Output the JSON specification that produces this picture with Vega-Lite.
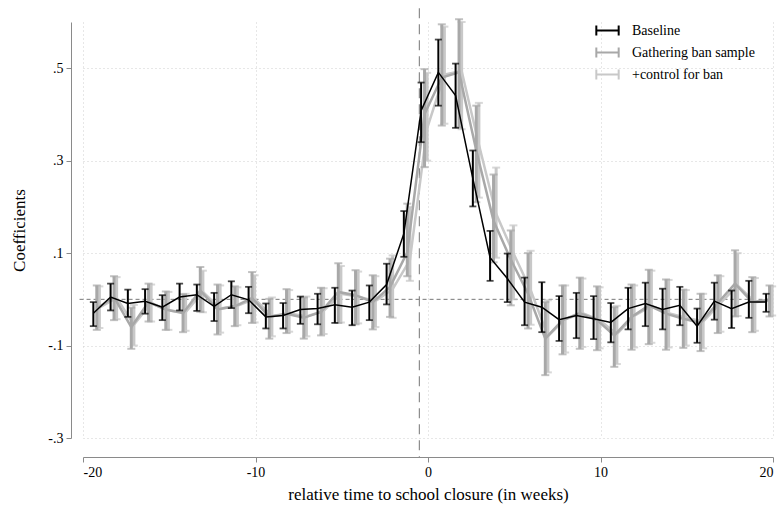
{
  "$schema": "https://vega.github.io/schema/vega-lite/v6.json",
  "width": 690,
  "height": 416,
  "autosize": {"type": "none"},
  "padding": {"left": 83, "top": 22, "right": 5, "bottom": 68},
  "background": "white",
  "datasets": {
    "coefs": [
      {"series": "Baseline", "x": -19.4, "b": -0.030, "lo": -0.058, "hi": -0.006},
      {"series": "Baseline", "x": -18.4, "b": 0.005, "lo": -0.024, "hi": 0.034},
      {"series": "Baseline", "x": -17.4, "b": -0.009, "lo": -0.038, "hi": 0.021},
      {"series": "Baseline", "x": -16.4, "b": -0.004, "lo": -0.031, "hi": 0.022},
      {"series": "Baseline", "x": -15.4, "b": -0.017, "lo": -0.045, "hi": 0.009},
      {"series": "Baseline", "x": -14.4, "b": 0.005, "lo": -0.024, "hi": 0.034},
      {"series": "Baseline", "x": -13.4, "b": 0.010, "lo": -0.025, "hi": 0.032},
      {"series": "Baseline", "x": -12.4, "b": -0.015, "lo": -0.047, "hi": 0.014},
      {"series": "Baseline", "x": -11.4, "b": 0.010, "lo": -0.019, "hi": 0.039},
      {"series": "Baseline", "x": -10.4, "b": -0.001, "lo": -0.030, "hi": 0.027},
      {"series": "Baseline", "x": -9.4, "b": -0.038, "lo": -0.063, "hi": -0.009},
      {"series": "Baseline", "x": -8.4, "b": -0.035, "lo": -0.063, "hi": -0.008},
      {"series": "Baseline", "x": -7.4, "b": -0.022, "lo": -0.053, "hi": 0.006},
      {"series": "Baseline", "x": -6.4, "b": -0.020, "lo": -0.054, "hi": 0.012},
      {"series": "Baseline", "x": -5.4, "b": -0.012, "lo": -0.051, "hi": 0.025},
      {"series": "Baseline", "x": -4.4, "b": -0.017, "lo": -0.056, "hi": 0.019},
      {"series": "Baseline", "x": -3.4, "b": -0.006, "lo": -0.045, "hi": 0.030},
      {"series": "Baseline", "x": -2.4, "b": 0.032, "lo": -0.011, "hi": 0.077},
      {"series": "Baseline", "x": -1.4, "b": 0.142, "lo": 0.092, "hi": 0.191},
      {"series": "Baseline", "x": -0.4, "b": 0.408, "lo": 0.340, "hi": 0.469},
      {"series": "Baseline", "x": 0.6, "b": 0.491, "lo": 0.419, "hi": 0.562},
      {"series": "Baseline", "x": 1.6, "b": 0.441, "lo": 0.371, "hi": 0.510},
      {"series": "Baseline", "x": 2.6, "b": 0.261, "lo": 0.201, "hi": 0.322},
      {"series": "Baseline", "x": 3.6, "b": 0.090, "lo": 0.040, "hi": 0.148},
      {"series": "Baseline", "x": 4.6, "b": 0.045, "lo": -0.006, "hi": 0.099},
      {"series": "Baseline", "x": 5.6, "b": -0.006, "lo": -0.056, "hi": 0.047},
      {"series": "Baseline", "x": 6.6, "b": -0.017, "lo": -0.071, "hi": 0.037},
      {"series": "Baseline", "x": 7.6, "b": -0.044, "lo": -0.090, "hi": 0.007},
      {"series": "Baseline", "x": 8.6, "b": -0.035, "lo": -0.084, "hi": 0.014},
      {"series": "Baseline", "x": 9.6, "b": -0.042, "lo": -0.086, "hi": 0.007},
      {"series": "Baseline", "x": 10.6, "b": -0.050, "lo": -0.093, "hi": -0.008},
      {"series": "Baseline", "x": 11.6, "b": -0.020, "lo": -0.065, "hi": 0.025},
      {"series": "Baseline", "x": 12.6, "b": -0.009, "lo": -0.058, "hi": 0.036},
      {"series": "Baseline", "x": 13.6, "b": -0.022, "lo": -0.065, "hi": 0.023},
      {"series": "Baseline", "x": 14.6, "b": -0.013, "lo": -0.056, "hi": 0.027},
      {"series": "Baseline", "x": 15.6, "b": -0.058, "lo": -0.094, "hi": -0.020},
      {"series": "Baseline", "x": 16.6, "b": -0.004, "lo": -0.044, "hi": 0.036},
      {"series": "Baseline", "x": 17.6, "b": -0.020, "lo": -0.062, "hi": 0.019},
      {"series": "Baseline", "x": 18.6, "b": -0.006, "lo": -0.040, "hi": 0.040},
      {"series": "Baseline", "x": 19.6, "b": -0.006, "lo": -0.027, "hi": 0.012},

      {"series": "Gathering ban sample", "x": -19.2, "b": -0.020, "lo": -0.066, "hi": 0.030},
      {"series": "Gathering ban sample", "x": -18.2, "b": 0.005, "lo": -0.045, "hi": 0.050},
      {"series": "Gathering ban sample", "x": -17.2, "b": -0.060, "lo": -0.107, "hi": -0.018},
      {"series": "Gathering ban sample", "x": -16.2, "b": -0.006, "lo": -0.048, "hi": 0.034},
      {"series": "Gathering ban sample", "x": -15.2, "b": -0.022, "lo": -0.066, "hi": 0.017},
      {"series": "Gathering ban sample", "x": -14.2, "b": -0.030, "lo": -0.071, "hi": 0.011},
      {"series": "Gathering ban sample", "x": -13.2, "b": 0.019, "lo": -0.027, "hi": 0.070},
      {"series": "Gathering ban sample", "x": -12.2, "b": -0.022, "lo": -0.076, "hi": 0.032},
      {"series": "Gathering ban sample", "x": -11.2, "b": -0.015, "lo": -0.058, "hi": 0.028},
      {"series": "Gathering ban sample", "x": -10.2, "b": 0.003, "lo": -0.051, "hi": 0.059},
      {"series": "Gathering ban sample", "x": -9.2, "b": -0.038, "lo": -0.085, "hi": 0.001},
      {"series": "Gathering ban sample", "x": -8.2, "b": -0.031, "lo": -0.073, "hi": 0.022},
      {"series": "Gathering ban sample", "x": -7.2, "b": -0.040, "lo": -0.085, "hi": 0.004},
      {"series": "Gathering ban sample", "x": -6.2, "b": -0.027, "lo": -0.078, "hi": 0.025},
      {"series": "Gathering ban sample", "x": -5.2, "b": 0.016, "lo": -0.051, "hi": 0.078},
      {"series": "Gathering ban sample", "x": -4.2, "b": 0.009, "lo": -0.054, "hi": 0.063},
      {"series": "Gathering ban sample", "x": -3.2, "b": -0.006, "lo": -0.065, "hi": 0.052},
      {"series": "Gathering ban sample", "x": -2.2, "b": 0.027, "lo": -0.038, "hi": 0.088},
      {"series": "Gathering ban sample", "x": -1.2, "b": 0.102, "lo": 0.050, "hi": 0.207},
      {"series": "Gathering ban sample", "x": -0.2, "b": 0.401, "lo": 0.286, "hi": 0.498},
      {"series": "Gathering ban sample", "x": 0.8, "b": 0.480, "lo": 0.376, "hi": 0.595},
      {"series": "Gathering ban sample", "x": 1.8, "b": 0.491, "lo": 0.372, "hi": 0.606},
      {"series": "Gathering ban sample", "x": 2.8, "b": 0.322, "lo": 0.210, "hi": 0.419},
      {"series": "Gathering ban sample", "x": 3.8, "b": 0.170, "lo": 0.080, "hi": 0.270},
      {"series": "Gathering ban sample", "x": 4.8, "b": 0.086, "lo": -0.013, "hi": 0.149},
      {"series": "Gathering ban sample", "x": 5.8, "b": 0.012, "lo": -0.063, "hi": 0.100},
      {"series": "Gathering ban sample", "x": 6.8, "b": -0.085, "lo": -0.164, "hi": -0.006},
      {"series": "Gathering ban sample", "x": 7.8, "b": -0.045, "lo": -0.119, "hi": 0.030},
      {"series": "Gathering ban sample", "x": 8.8, "b": -0.030, "lo": -0.107, "hi": 0.047},
      {"series": "Gathering ban sample", "x": 9.8, "b": -0.045, "lo": -0.110, "hi": 0.028},
      {"series": "Gathering ban sample", "x": 10.8, "b": -0.078, "lo": -0.146, "hi": -0.017},
      {"series": "Gathering ban sample", "x": 11.8, "b": -0.038, "lo": -0.109, "hi": 0.032},
      {"series": "Gathering ban sample", "x": 12.8, "b": -0.013, "lo": -0.097, "hi": 0.064},
      {"series": "Gathering ban sample", "x": 13.8, "b": -0.031, "lo": -0.109, "hi": 0.043},
      {"series": "Gathering ban sample", "x": 14.8, "b": -0.042, "lo": -0.105, "hi": 0.021},
      {"series": "Gathering ban sample", "x": 15.8, "b": -0.051, "lo": -0.112, "hi": 0.012},
      {"series": "Gathering ban sample", "x": 16.8, "b": -0.008, "lo": -0.073, "hi": 0.052},
      {"series": "Gathering ban sample", "x": 17.8, "b": 0.034, "lo": -0.037, "hi": 0.106},
      {"series": "Gathering ban sample", "x": 18.8, "b": -0.006, "lo": -0.071, "hi": 0.048},
      {"series": "Gathering ban sample", "x": 19.8, "b": -0.001, "lo": -0.037, "hi": 0.030},

      {"series": "+control for ban", "x": -19.05, "b": -0.018, "lo": -0.062, "hi": 0.028},
      {"series": "+control for ban", "x": -18.05, "b": 0.003, "lo": -0.043, "hi": 0.048},
      {"series": "+control for ban", "x": -17.05, "b": -0.055, "lo": -0.100, "hi": -0.012},
      {"series": "+control for ban", "x": -16.05, "b": -0.008, "lo": -0.048, "hi": 0.032},
      {"series": "+control for ban", "x": -15.05, "b": -0.024, "lo": -0.066, "hi": 0.016},
      {"series": "+control for ban", "x": -14.05, "b": -0.028, "lo": -0.068, "hi": 0.012},
      {"series": "+control for ban", "x": -13.05, "b": 0.016, "lo": -0.028, "hi": 0.062},
      {"series": "+control for ban", "x": -12.05, "b": -0.020, "lo": -0.072, "hi": 0.030},
      {"series": "+control for ban", "x": -11.05, "b": -0.014, "lo": -0.056, "hi": 0.026},
      {"series": "+control for ban", "x": -10.05, "b": 0.001, "lo": -0.050, "hi": 0.052},
      {"series": "+control for ban", "x": -9.05, "b": -0.036, "lo": -0.080, "hi": 0.004},
      {"series": "+control for ban", "x": -8.05, "b": -0.030, "lo": -0.070, "hi": 0.020},
      {"series": "+control for ban", "x": -7.05, "b": -0.037, "lo": -0.080, "hi": 0.006},
      {"series": "+control for ban", "x": -6.05, "b": -0.025, "lo": -0.075, "hi": 0.024},
      {"series": "+control for ban", "x": -5.05, "b": 0.012, "lo": -0.050, "hi": 0.072},
      {"series": "+control for ban", "x": -4.05, "b": 0.006, "lo": -0.052, "hi": 0.060},
      {"series": "+control for ban", "x": -3.05, "b": -0.004, "lo": -0.060, "hi": 0.050},
      {"series": "+control for ban", "x": -2.05, "b": 0.022, "lo": -0.040, "hi": 0.095},
      {"series": "+control for ban", "x": -1.05, "b": 0.085, "lo": 0.040, "hi": 0.200},
      {"series": "+control for ban", "x": -0.05, "b": 0.370, "lo": 0.300, "hi": 0.490},
      {"series": "+control for ban", "x": 0.95, "b": 0.486, "lo": 0.380, "hi": 0.590},
      {"series": "+control for ban", "x": 1.95, "b": 0.494, "lo": 0.368, "hi": 0.600},
      {"series": "+control for ban", "x": 2.95, "b": 0.335, "lo": 0.220, "hi": 0.425},
      {"series": "+control for ban", "x": 3.95, "b": 0.185, "lo": 0.090, "hi": 0.285},
      {"series": "+control for ban", "x": 4.95, "b": 0.100, "lo": 0.000, "hi": 0.160},
      {"series": "+control for ban", "x": 5.95, "b": 0.020, "lo": -0.055, "hi": 0.105},
      {"series": "+control for ban", "x": 6.95, "b": -0.080, "lo": -0.158, "hi": -0.002},
      {"series": "+control for ban", "x": 7.95, "b": -0.043, "lo": -0.115, "hi": 0.030},
      {"series": "+control for ban", "x": 8.95, "b": -0.030, "lo": -0.103, "hi": 0.045},
      {"series": "+control for ban", "x": 9.95, "b": -0.045, "lo": -0.106, "hi": 0.026},
      {"series": "+control for ban", "x": 10.95, "b": -0.075, "lo": -0.140, "hi": -0.014},
      {"series": "+control for ban", "x": 11.95, "b": -0.036, "lo": -0.104, "hi": 0.030},
      {"series": "+control for ban", "x": 12.95, "b": -0.014, "lo": -0.094, "hi": 0.062},
      {"series": "+control for ban", "x": 13.95, "b": -0.030, "lo": -0.104, "hi": 0.042},
      {"series": "+control for ban", "x": 14.95, "b": -0.040, "lo": -0.100, "hi": 0.020},
      {"series": "+control for ban", "x": 15.95, "b": -0.048, "lo": -0.106, "hi": 0.012},
      {"series": "+control for ban", "x": 16.95, "b": -0.008, "lo": -0.070, "hi": 0.050},
      {"series": "+control for ban", "x": 17.95, "b": 0.030, "lo": -0.036, "hi": 0.100},
      {"series": "+control for ban", "x": 18.95, "b": -0.006, "lo": -0.068, "hi": 0.046},
      {"series": "+control for ban", "x": 19.95, "b": -0.002, "lo": -0.035, "hi": 0.028}
    ]
  },
  "data": {"name": "coefs"},
  "encoding": {
    "x": {
      "field": "x",
      "type": "quantitative",
      "title": "relative time to school closure (in weeks)",
      "scale": {"domain": [-20, 20], "nice": false, "zero": false},
      "axis": {
        "values": [-20, -10, 0, 10, 20],
        "offset": 19,
        "titlePadding": 7,
        "labelExpr": "datum.value < 0 ? '-' + format(-datum.value, 'd') : format(datum.value, 'd')"
      }
    },
    "y": {
      "field": "b",
      "type": "quantitative",
      "title": "Coefficients",
      "scale": {"domain": [-0.3, 0.6], "nice": false, "zero": false},
      "axis": {
        "values": [-0.3, -0.1, 0.1, 0.3, 0.5],
        "offset": 12,
        "titlePadding": 19,
        "labelExpr": "datum.value < 0 ? '-' + substring(format(-datum.value, '.1f'), 1) : substring(format(datum.value, '.1f'), 1)"
      }
    },
    "color": {
      "field": "series",
      "type": "nominal",
      "scale": {
        "domain": ["Baseline", "Gathering ban sample", "+control for ban"],
        "range": ["#000000", "#a8a8a8", "#c8c8c8"]
      },
      "legend": {
        "title": null,
        "orient": "none",
        "legendX": 512,
        "legendY": -4
      }
    }
  },
  "layer": [
    {
      "transform": [{"filter": "datum.x === -19.4"}],
      "mark": {"type": "rule", "color": "#777777", "strokeDash": [4, 3], "strokeWidth": 1},
      "encoding": {
        "y": {"datum": 0},
        "x": {"datum": -20.2},
        "x2": {"datum": 20},
        "color": null
      }
    },
    {
      "transform": [{"filter": "datum.x === -19.4"}],
      "mark": {"type": "rule", "color": "#8c8c8c", "strokeDash": [10, 6], "strokeWidth": 1.2},
      "encoding": {
        "x": {"datum": -0.5},
        "y": {"datum": 0.63},
        "y2": {"datum": -0.341},
        "color": null
      }
    },
    {
      "transform": [{"filter": "datum.series === '+control for ban'"}],
      "mark": {"type": "errorbar", "ticks": {"size": 8, "thickness": 2}, "rule": {"strokeWidth": 3}},
      "encoding": {"y": {"field": "lo", "type": "quantitative"}, "y2": {"field": "hi"}}
    },
    {
      "transform": [{"filter": "datum.series === '+control for ban'"}],
      "mark": {"type": "line", "strokeWidth": 2.5}
    },
    {
      "transform": [{"filter": "datum.series === 'Gathering ban sample'"}],
      "mark": {"type": "errorbar", "ticks": {"size": 8, "thickness": 2}, "rule": {"strokeWidth": 3}},
      "encoding": {"y": {"field": "lo", "type": "quantitative"}, "y2": {"field": "hi"}}
    },
    {
      "transform": [{"filter": "datum.series === 'Gathering ban sample'"}],
      "mark": {"type": "line", "strokeWidth": 2.5}
    },
    {
      "transform": [{"filter": "datum.series === 'Baseline'"}],
      "mark": {"type": "errorbar", "ticks": {"size": 7, "thickness": 1.8}, "rule": {"strokeWidth": 2}},
      "encoding": {"y": {"field": "lo", "type": "quantitative"}, "y2": {"field": "hi"}}
    },
    {
      "transform": [{"filter": "datum.series === 'Baseline'"}],
      "mark": {"type": "line", "strokeWidth": 1.5}
    }
  ],
  "config": {
    "view": {"stroke": null},
    "font": "Liberation Serif",
    "axis": {
      "grid": true,
      "gridColor": "#cfcfcf",
      "gridDash": [1, 3],
      "gridWidth": 1,
      "domainColor": "#8a8a8a",
      "tickColor": "#8a8a8a",
      "tickSize": 5,
      "labelFont": "Liberation Serif",
      "labelFontSize": 14,
      "labelColor": "#000000",
      "labelPadding": 3,
      "titleFont": "Liberation Serif",
      "titleFontSize": 17,
      "titleFontWeight": "normal",
      "titleColor": "#000000"
    },
    "legend": {
      "symbolType": "M-1,0H1M-1,-0.45V0.45M1,-0.45V0.45",
      "symbolSize": 500,
      "symbolStrokeWidth": 2,
      "symbolOpacity": 1,
      "symbolFillColor": "transparent",
      "labelFont": "Liberation Serif",
      "labelFontSize": 14,
      "labelColor": "#000000",
      "labelOffset": 12,
      "rowPadding": 0
    }
  }
}
